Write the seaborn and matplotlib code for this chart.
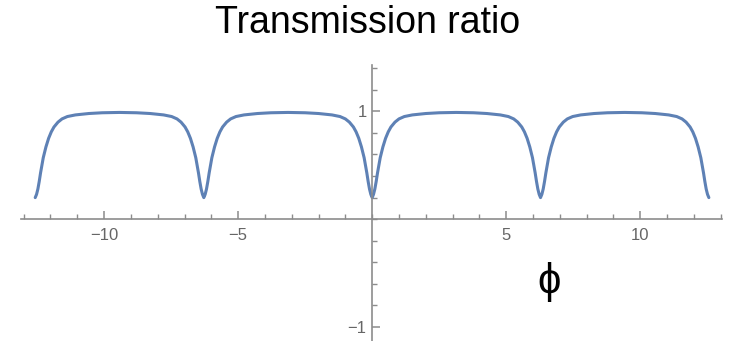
import numpy as np
import pandas as pd
import matplotlib
matplotlib.use("Agg")
import matplotlib.pyplot as plt
import seaborn as sns

# values (phi, transmission ratio)
phi = [
    -12.57, -12.52, -12.47, -12.42, -12.37, -12.32, -12.27, -12.17, -12.07, -11.97,
    -11.87, -11.72, -11.57, -11.37, -11.07, -10.57, -10.07,
    -9.43,
    -8.79, -8.28, -7.78, -7.48, -7.28, -7.13, -6.98, -6.88, -6.78, -6.68,
    -6.58, -6.53, -6.48, -6.43, -6.38, -6.33, -6.28,
    -6.23, -6.18, -6.13, -6.08, -6.03, -5.98, -5.88, -5.78, -5.68, -5.58,
    -5.43, -5.28, -5.08, -4.78, -4.28, -3.78,
    -3.14,
    -2.50, -2.00, -1.50, -1.20, -1.00, -0.85, -0.70, -0.60, -0.50, -0.40,
    -0.30, -0.25, -0.20, -0.15, -0.10, -0.05, 0.00,
    0.05, 0.10, 0.15, 0.20, 0.25, 0.30, 0.40, 0.50, 0.60, 0.70,
    0.85, 1.00, 1.20, 1.50, 2.00, 2.50,
    3.14,
    3.78, 4.28, 4.78, 5.08, 5.28, 5.43, 5.58, 5.68, 5.78, 5.88,
    5.98, 6.03, 6.08, 6.13, 6.18, 6.23, 6.28,
    6.33, 6.38, 6.43, 6.48, 6.53, 6.58, 6.68, 6.78, 6.88, 6.98,
    7.13, 7.28, 7.48, 7.78, 8.28, 8.78,
    9.42,
    10.06, 10.56, 11.06, 11.36, 11.56, 11.71, 11.86, 11.96, 12.06, 12.16,
    12.26, 12.31, 12.36, 12.41, 12.46, 12.51, 12.56,
]
ratio = [
    0.20, 0.23, 0.28, 0.35, 0.43, 0.50, 0.57, 0.67, 0.75, 0.81,
    0.855, 0.90, 0.93, 0.952, 0.967, 0.98, 0.987,
    0.99,
    0.987, 0.98, 0.967, 0.952, 0.93, 0.90, 0.855, 0.81, 0.75, 0.67,
    0.57, 0.50, 0.43, 0.35, 0.28, 0.23, 0.20,
    0.23, 0.28, 0.35, 0.43, 0.50, 0.57, 0.67, 0.75, 0.81, 0.855,
    0.90, 0.93, 0.952, 0.967, 0.98, 0.987,
    0.99,
    0.987, 0.98, 0.967, 0.952, 0.93, 0.90, 0.855, 0.81, 0.75, 0.67,
    0.57, 0.50, 0.43, 0.35, 0.28, 0.23, 0.20,
    0.23, 0.28, 0.35, 0.43, 0.50, 0.57, 0.67, 0.75, 0.81, 0.855,
    0.90, 0.93, 0.952, 0.967, 0.98, 0.987,
    0.99,
    0.987, 0.98, 0.967, 0.952, 0.93, 0.90, 0.855, 0.81, 0.75, 0.67,
    0.57, 0.50, 0.43, 0.35, 0.28, 0.23, 0.20,
    0.23, 0.28, 0.35, 0.43, 0.50, 0.57, 0.67, 0.75, 0.81, 0.855,
    0.90, 0.93, 0.952, 0.967, 0.98, 0.987,
    0.99,
    0.987, 0.98, 0.967, 0.952, 0.93, 0.90, 0.855, 0.81, 0.75, 0.67,
    0.57, 0.50, 0.43, 0.35, 0.28, 0.23, 0.20,
]
x_ticks = [-10, -5, 5, 10]
x_tick_labels = ["\u221210", "\u22125", "5", "10"]
y_ticks = [-1, 1]
y_tick_labels = ["\u22121", "1"]

sns.set_style("white")
plt.rcParams["font.family"] = ["Liberation Sans", "DejaVu Sans"]

df = pd.DataFrame({"phi": phi, "ratio": ratio})

fig = plt.figure(figsize=(7.29, 3.41), dpi=100)
ax = fig.add_axes([21 / 729, 0.0, 701 / 729, 276 / 341])

sns.lineplot(data=df, x="phi", y="ratio", ax=ax, color="#5E81B5", linewidth=2.2,
             sort=False, estimator=None)

ax.set_xlim(-13.1, 13.05)
ax.set_ylim(-1.13, 1.43)

# axes crossing at the origin, like the original
ax.spines["left"].set_position(("data", 0))
ax.spines["bottom"].set_position(("data", 0))
ax.spines["top"].set_visible(False)
ax.spines["right"].set_visible(False)
for s in ("left", "bottom"):
    ax.spines[s].set_color("#8c8c8c")
    ax.spines[s].set_linewidth(1.2)

ax.set_xticks(x_ticks)
ax.set_xticklabels(x_tick_labels)
ax.set_xticks(np.arange(-13, 14, 1), minor=True)
ax.set_yticks(y_ticks)
ax.set_yticklabels(y_tick_labels)
ax.set_yticks(np.arange(-1.0, 1.41, 0.2), minor=True)

ax.tick_params(which="both", bottom=True, left=True)
ax.tick_params(which="major", direction="in", length=6, width=1.1, color="#8c8c8c",
               labelsize=12, labelcolor="#666666")
ax.tick_params(which="minor", direction="in", length=3.5, width=1.0, color="#8c8c8c")
ax.tick_params(axis="x", which="major", pad=6)
ax.tick_params(axis="y", which="major", pad=4)

ax.set_xlabel("")
ax.set_ylabel("")

fig.text(368 / 729, 1 - 23 / 341, "Transmission ratio", ha="center", va="center",
         fontsize=27, color="black")
fig.text(549 / 729, 1 - 282 / 341, "\u03d5", ha="center", va="center",
         fontsize=30, color="black")

plt.savefig("out.png", dpi=100)
